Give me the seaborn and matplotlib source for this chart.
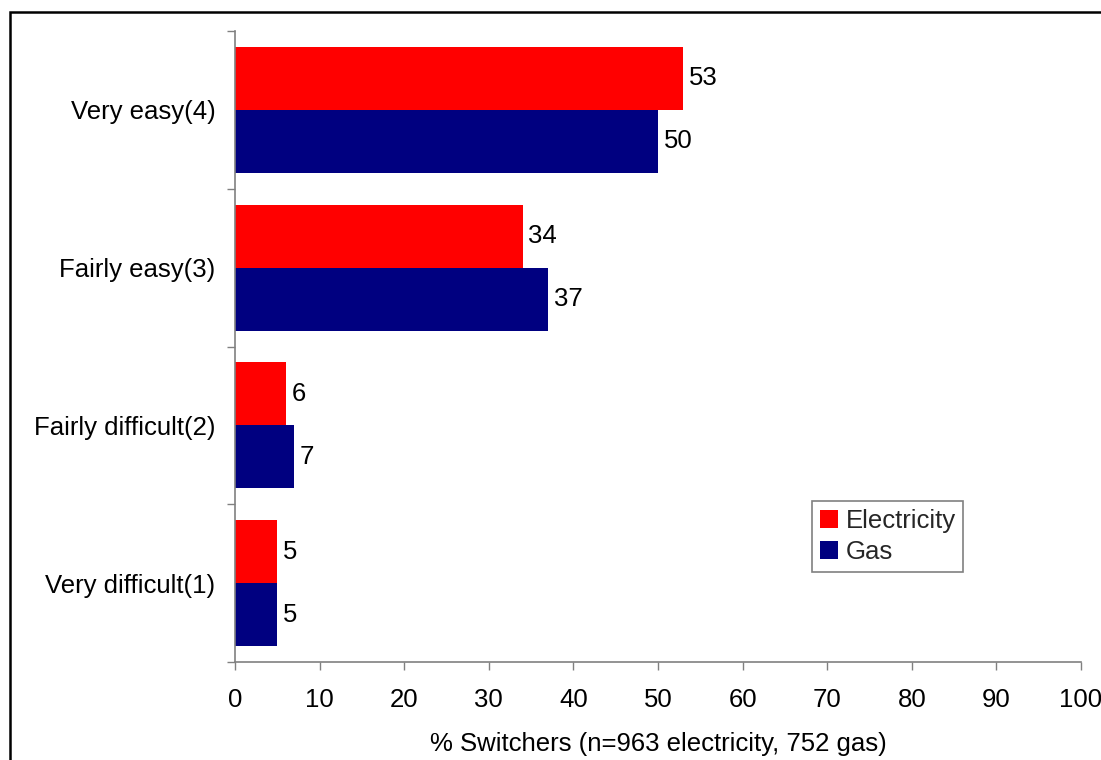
import matplotlib
matplotlib.use("Agg")
import matplotlib.pyplot as plt
import matplotlib.patches as mpatches
import seaborn as sns
import pandas as pd

categories = ["Very easy(4)", "Fairly easy(3)", "Fairly difficult(2)", "Very difficult(1)"]
electricity = [53, 34, 6, 5]
gas = [50, 37, 7, 5]
series_names = ["Electricity", "Gas"]
x_ticks = list(range(0, 101, 10))
x_label = "% Switchers (n=963 electricity, 752 gas)"

df = pd.DataFrame({
    "category": categories * 2,
    "value": electricity + gas,
    "series": [series_names[0]] * len(categories) + [series_names[1]] * len(categories),
})

sns.set_theme(style="white")
plt.rcParams["font.family"] = ["Liberation Sans", "DejaVu Sans"]
FS = 18.5

fig = plt.figure(figsize=(11.01, 7.60), dpi=100)
ax = fig.add_axes([235 / 1101, 1 - 662 / 760, (1081 - 235) / 1101, (662 - 31) / 760])

palette = {"Electricity": "#FF0000", "Gas": "#000080"}
sns.barplot(data=df, x="value", y="category", hue="series", order=categories,
            hue_order=series_names, palette=palette, width=0.8, saturation=1,
            edgecolor="none", linewidth=0, ax=ax, legend=True)

for container in ax.containers:
    ax.bar_label(container, labels=[f"{v:g}" for v in container.datavalues],
                 padding=4, fontsize=FS, color="black")

ax.set_xlim(0, 100)
ax.set_ylim(len(categories) - 0.5, -0.5)
ax.set_xticks(x_ticks)
ax.set_xticklabels([str(t) for t in x_ticks], fontsize=FS, color="black")
ax.set_yticks(range(len(categories)))
ax.set_yticklabels(categories, fontsize=FS, color="black")
ax.set_yticks([i - 0.5 for i in range(len(categories) + 1)], minor=True)
ax.tick_params(axis="y", which="major", length=0, pad=14)
ax.tick_params(axis="y", which="minor", length=6, width=1, color="#808080", direction="out", left=True)
ax.tick_params(axis="x", which="major", length=6, width=1, color="#808080", direction="out", bottom=True, pad=13)
ax.set_xlabel(x_label, fontsize=FS, color="black", labelpad=14)
ax.set_ylabel("")

for side in ["top", "right"]:
    ax.spines[side].set_visible(False)
for side in ["left", "bottom"]:
    ax.spines[side].set_visible(True)
    ax.spines[side].set_color("#808080")
    ax.spines[side].set_linewidth(1.2)

leg = ax.legend(loc="upper left", bbox_to_anchor=((812 - 235) / 846, 1 - (501 - 31) / 631),
                fontsize=FS, frameon=True, fancybox=False, edgecolor="#606060",
                handlelength=0.7, handleheight=0.7, handletextpad=0.3,
                borderpad=0.3, labelspacing=0.3, borderaxespad=0)
leg.get_frame().set_linewidth(1.2)

fig.patches.append(mpatches.Rectangle((10 / 1101, -0.1), 1.2, 1 - 12 / 760 + 0.1,
                                      transform=fig.transFigure, fill=False,
                                      edgecolor="black", linewidth=1.8))

fig.savefig("out.png", dpi=100, facecolor="white")
